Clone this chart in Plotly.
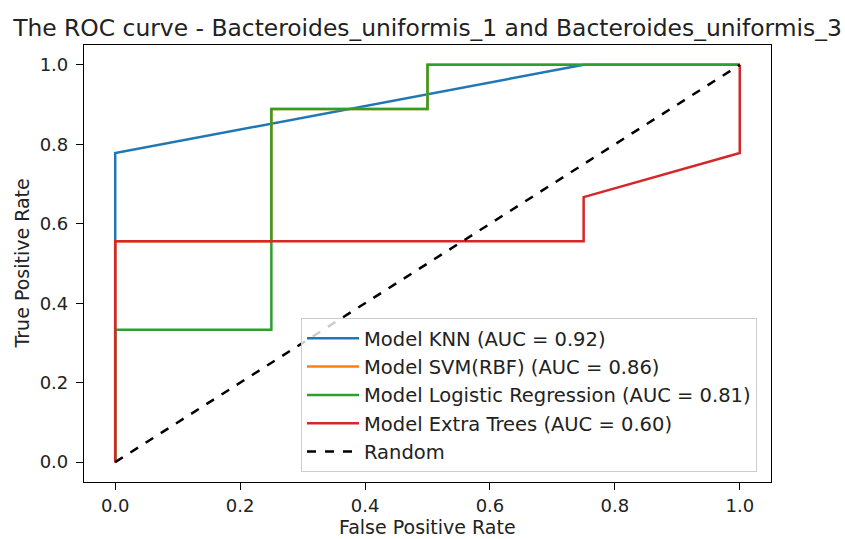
import plotly.graph_objects as go

# ROC curve points (false positive rate, true positive rate) for each model
knn_fpr = [0.0, 0.0, 0.0, 0.75, 1.0]
knn_tpr = [0.0, 0.556, 0.778, 1.0, 1.0]

svm_fpr = [0.0, 0.0, 0.25, 0.25, 0.5, 0.5, 1.0]
svm_tpr = [0.0, 0.556, 0.556, 0.889, 0.889, 1.0, 1.0]

lr_fpr = [0.0, 0.0, 0.25, 0.25, 0.5, 0.5, 1.0]
lr_tpr = [0.0, 0.333, 0.333, 0.889, 0.889, 1.0, 1.0]

et_fpr = [0.0, 0.0, 0.75, 0.75, 1.0, 1.0]
et_tpr = [0.0, 0.556, 0.556, 0.667, 0.778, 1.0]

random_fpr = [0.0, 1.0]
random_tpr = [0.0, 1.0]

model_names = ["Model KNN (AUC = 0.92)", "Model SVM(RBF) (AUC = 0.86)",
               "Model Logistic Regression (AUC = 0.81)", "Model Extra Trees (AUC = 0.60)"]
model_colors = ["#1f77b4", "#ff7f0e", "#2ca02c", "#d62728"]
tick_vals = [0.0, 0.2, 0.4, 0.6, 0.8, 1.0]
tick_text = ["0.0", "0.2", "0.4", "0.6", "0.8", "1.0"]

FONT = "DejaVu Sans"
PLOT_W, PLOT_H = 687, 437  # plotting area size in px

fig = go.Figure()
curves = [(knn_fpr, knn_tpr), (svm_fpr, svm_tpr), (lr_fpr, lr_tpr), (et_fpr, et_tpr)]
for (fx, ty), name, color in zip(curves, model_names, model_colors):
    fig.add_trace(go.Scatter(x=fx, y=ty, mode="lines", name=name,
                             line=dict(color=color, width=2.5)))
fig.add_trace(go.Scatter(x=random_fpr, y=random_tpr, mode="lines", name="Random",
                         line=dict(color="black", width=2.5, dash="dash")))

axis_common = dict(
    tickvals=tick_vals, ticktext=tick_text,
    ticks="outside", ticklen=7, tickwidth=1.2, tickcolor="black",
    showline=True, linecolor="black", linewidth=1.2, mirror=True,
    showgrid=False, zeroline=False, automargin=False,
    tickfont=dict(family=FONT, size=18, color="#222"),
)

fig.update_layout(
    width=845, height=539,
    margin=dict(l=84, r=74, t=45, b=57),
    paper_bgcolor="white", plot_bgcolor="white",
    font=dict(family=FONT, color="#222"),
    title=dict(text="The ROC curve - Bacteroides_uniformis_1 and Bacteroides_uniformis_3",
               x=0.5, xref="paper", xanchor="center",
               y=1 - 28 / 539, yref="container", yanchor="middle",
               font=dict(family=FONT, size=23.4, color="#222")),
    xaxis=dict(range=[-0.05, 1.05], ticklabelstandoff=0, **axis_common),
    yaxis=dict(range=[-0.05, 1.05], ticklabelstandoff=4, **axis_common),
    legend=dict(x=(301 - 84) / PLOT_W, y=(482 - 318) / PLOT_H, xanchor="left", yanchor="top",
                bgcolor="rgba(255,255,255,0.8)", bordercolor="#cccccc", borderwidth=1,
                font=dict(family=FONT, size=19.5, color="#222"),
                tracegroupgap=0, itemwidth=52),
    showlegend=True,
    annotations=[
        dict(text="False Positive Rate", xref="paper", yref="paper",
             x=0.5, y=-(527 - 482) / PLOT_H, xanchor="center", yanchor="middle",
             showarrow=False, font=dict(family=FONT, size=19, color="#222")),
        dict(text="True Positive Rate", xref="paper", yref="paper",
             x=-(84 - 21) / PLOT_W, y=0.5, xanchor="center", yanchor="middle",
             textangle=-90, showarrow=False, font=dict(family=FONT, size=19, color="#222")),
    ],
)

fig.write_html("out.html")
